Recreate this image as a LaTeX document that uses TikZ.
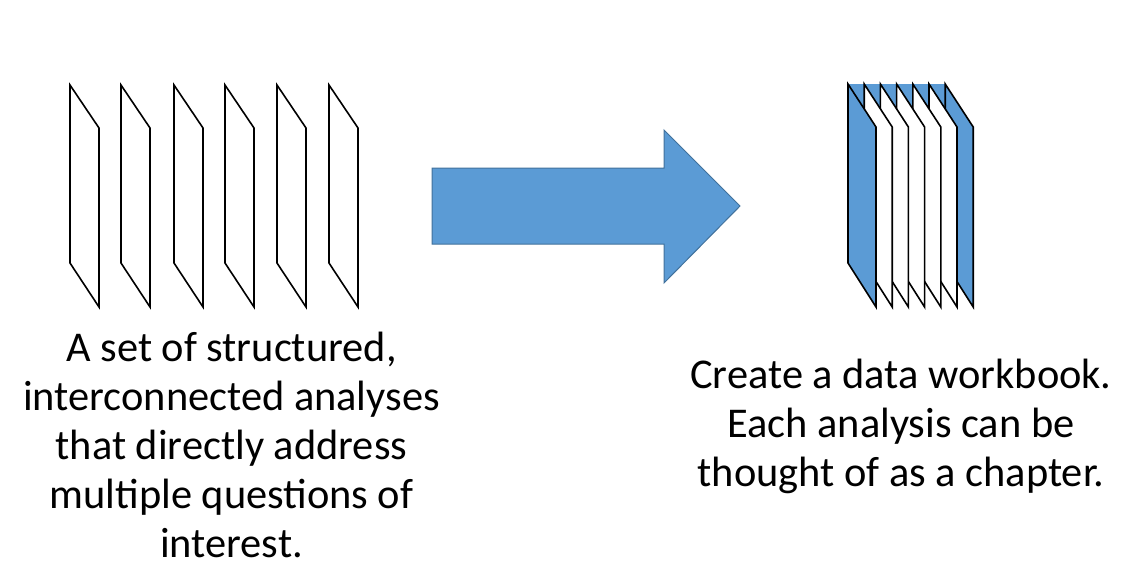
\documentclass[tikz,border=0pt]{standalone}
\usepackage{fontspec}
\setmainfont{Carlito}
\usepackage{tikz}
\definecolor{sheetblue}{RGB}{91,155,213}
\definecolor{sheetedge}{RGB}{65,113,156}
\tikzset{
  page/.style={
    draw=black,
    fill=white,
    line width=1.2pt,
    line join=miter,
  },
  blue page/.style={
    page,
    fill=sheetblue,
  },
  block arrow/.style={
    fill=sheetblue,
    draw=sheetedge,
    line width=0.75pt,
  },
  caption/.style={
    align=center,
    anchor=base,
    inner sep=0pt,
    font=\fontsize{31.8}{36.6}\selectfont,
  }
}

\begin{document}
\begin{tikzpicture}[x=0.75pt,y=-0.75pt]
  \useasboundingbox (0,0) rectangle (1131,576);

  % loose analyses
  \draw [page] (70,85) -- ++(29,43) -- ++(0,179) -- ++(-29,-44) -- cycle;
  \draw [page] (121,85) -- ++(29,43) -- ++(0,179) -- ++(-29,-44) -- cycle;
  \draw [page] (174,85) -- ++(29,43) -- ++(0,179) -- ++(-29,-44) -- cycle;
  \draw [page] (225,85) -- ++(29,43) -- ++(0,179) -- ++(-29,-44) -- cycle;
  \draw [page] (277,85) -- ++(29,43) -- ++(0,179) -- ++(-29,-44) -- cycle;
  \draw [page] (329,85) -- ++(29,43) -- ++(0,179) -- ++(-29,-44) -- cycle;

  % arrow
  \draw [block arrow] (432,168) -- (664,168) -- (664,130) -- (740,206)
    -- (664,283) -- (664,244) -- (432,244) -- cycle;

  % bound workbook
  \fill [sheetblue] (848,84) -- (945.2,84) -- (973.2,127) -- (876,127) -- cycle;
  \draw [blue page] (945.2,84) -- ++(28,43) -- ++(0,180) -- ++(-28,-44) -- cycle;
  \draw [page] (929,84) -- ++(28,43) -- ++(0,180) -- ++(-28,-44) -- cycle;
  \draw [page] (912.8,84) -- ++(28,43) -- ++(0,180) -- ++(-28,-44) -- cycle;
  \draw [page] (896.6,84) -- ++(28,43) -- ++(0,180) -- ++(-28,-44) -- cycle;
  \draw [page] (880.4,84) -- ++(28,43) -- ++(0,180) -- ++(-28,-44) -- cycle;
  \draw [page] (864.2,84) -- ++(28,43) -- ++(0,180) -- ++(-28,-44) -- cycle;
  \draw [blue page] (848,84) -- ++(28,43) -- ++(0,180) -- ++(-28,-44) -- cycle;

  \node [caption] (left text) at (231.5,557)
    {A set of structured,\\interconnected analyses\\that directly address\\multiple questions of\\interest.};
  \node [caption] (right text) at (901,486)
    {Create a data workbook.\\Each analysis can be\\thought of as a chapter.};
\end{tikzpicture}
\end{document}
